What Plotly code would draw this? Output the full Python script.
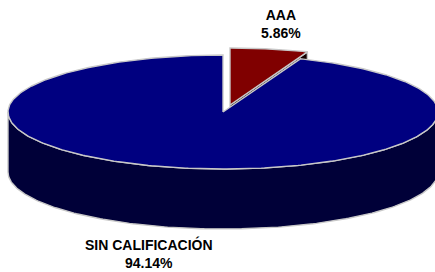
import numpy as np
import plotly.graph_objects as go

# ---- data ----
categories = ["AAA", "SIN CALIFICACIÓN"]
values = [5.86, 94.14]
pct_labels = ["5.86%", "94.14%"]

# ---- style / layout parameters ----
top_colors = ["#800000", "#000080"]
side_colors = ["#140000", "#000038"]
edge_color = "#C8C8C8"
explode = [(7, -7), (0, 0)]           # pixel offset of each slice
label_pos = [(281, 24), (149, 253)]   # label block centres (px)
W, H = 435, 272
cx, cy = 223, 112      # ellipse centre (px)
ra, rb = 215, 57       # ellipse semi axes (px)
depth = 60             # pie thickness (px)


def rim(theta_deg, ox, oy, dz=0.0):
    t = np.radians(theta_deg)
    return cx + ox + ra * np.sin(t), cy + oy - rb * np.cos(t) + dz


fig = go.Figure()

total = float(sum(values))
bounds = np.concatenate([[0.0], np.cumsum(values) / total * 360.0])

line = dict(color=edge_color, width=1.4)

for i in range(len(values)):
    t0, t1 = bounds[i], bounds[i + 1]
    ox, oy = explode[i]
    # cut face at t1 (faces the viewer when t1 < 180)
    if t1 < 180:
        x1, y1 = rim(t1, ox, oy)
        xs = [cx + ox, x1, x1, cx + ox, cx + ox]
        ys = [cy + oy, y1, y1 + depth, cy + oy + depth, cy + oy]
        fig.add_trace(go.Scatter(x=xs, y=ys, fill="toself", mode="lines",
                                 fillcolor=side_colors[i], line=line,
                                 hoverinfo="skip", showlegend=False))
    # outer front wall: visible between 90 and 270 degrees
    a0, a1 = max(t0, 90.0), min(t1, 270.0)
    if a1 > a0:
        th = np.linspace(a0, a1, 200)
        xt, yt = rim(th, ox, oy)
        xb, yb = rim(th[::-1], ox, oy, depth)
        xs = np.concatenate([xt, xb, xt[:1]])
        ys = np.concatenate([yt, yb, yt[:1]])
        fig.add_trace(go.Scatter(x=xs, y=ys, fill="toself", mode="lines",
                                 fillcolor=side_colors[i], line=line,
                                 hoverinfo="skip", showlegend=False))
    # top face
    th = np.linspace(t0, t1, 400)
    xt, yt = rim(th, ox, oy)
    xs = np.concatenate([[cx + ox], xt, [cx + ox]])
    ys = np.concatenate([[cy + oy], yt, [cy + oy]])
    fig.add_trace(go.Scatter(x=xs, y=ys, fill="toself", mode="lines",
                             fillcolor=top_colors[i], line=line,
                             hoverinfo="skip", showlegend=False,
                             name=categories[i]))

for i, cat in enumerate(categories):
    fig.add_annotation(x=label_pos[i][0], y=label_pos[i][1],
                       text=f"<b>{cat}</b><br><b>{pct_labels[i]}</b>",
                       showarrow=False, xanchor="center", yanchor="middle",
                       font=dict(family="Arial, Liberation Sans, sans-serif",
                                 size=14, color="#000000"))

fig.update_layout(
    width=W, height=H,
    margin=dict(l=0, r=0, t=0, b=0),
    paper_bgcolor="white", plot_bgcolor="white",
    xaxis=dict(range=[0, W], visible=False, fixedrange=True),
    yaxis=dict(range=[H, 0], visible=False, fixedrange=True),
    showlegend=False,
)

fig.write_html("out.html", config={"displayModeBar": False},
               post_script="document.body.style.margin='0';"
                           "document.body.style.overflow='hidden';")
